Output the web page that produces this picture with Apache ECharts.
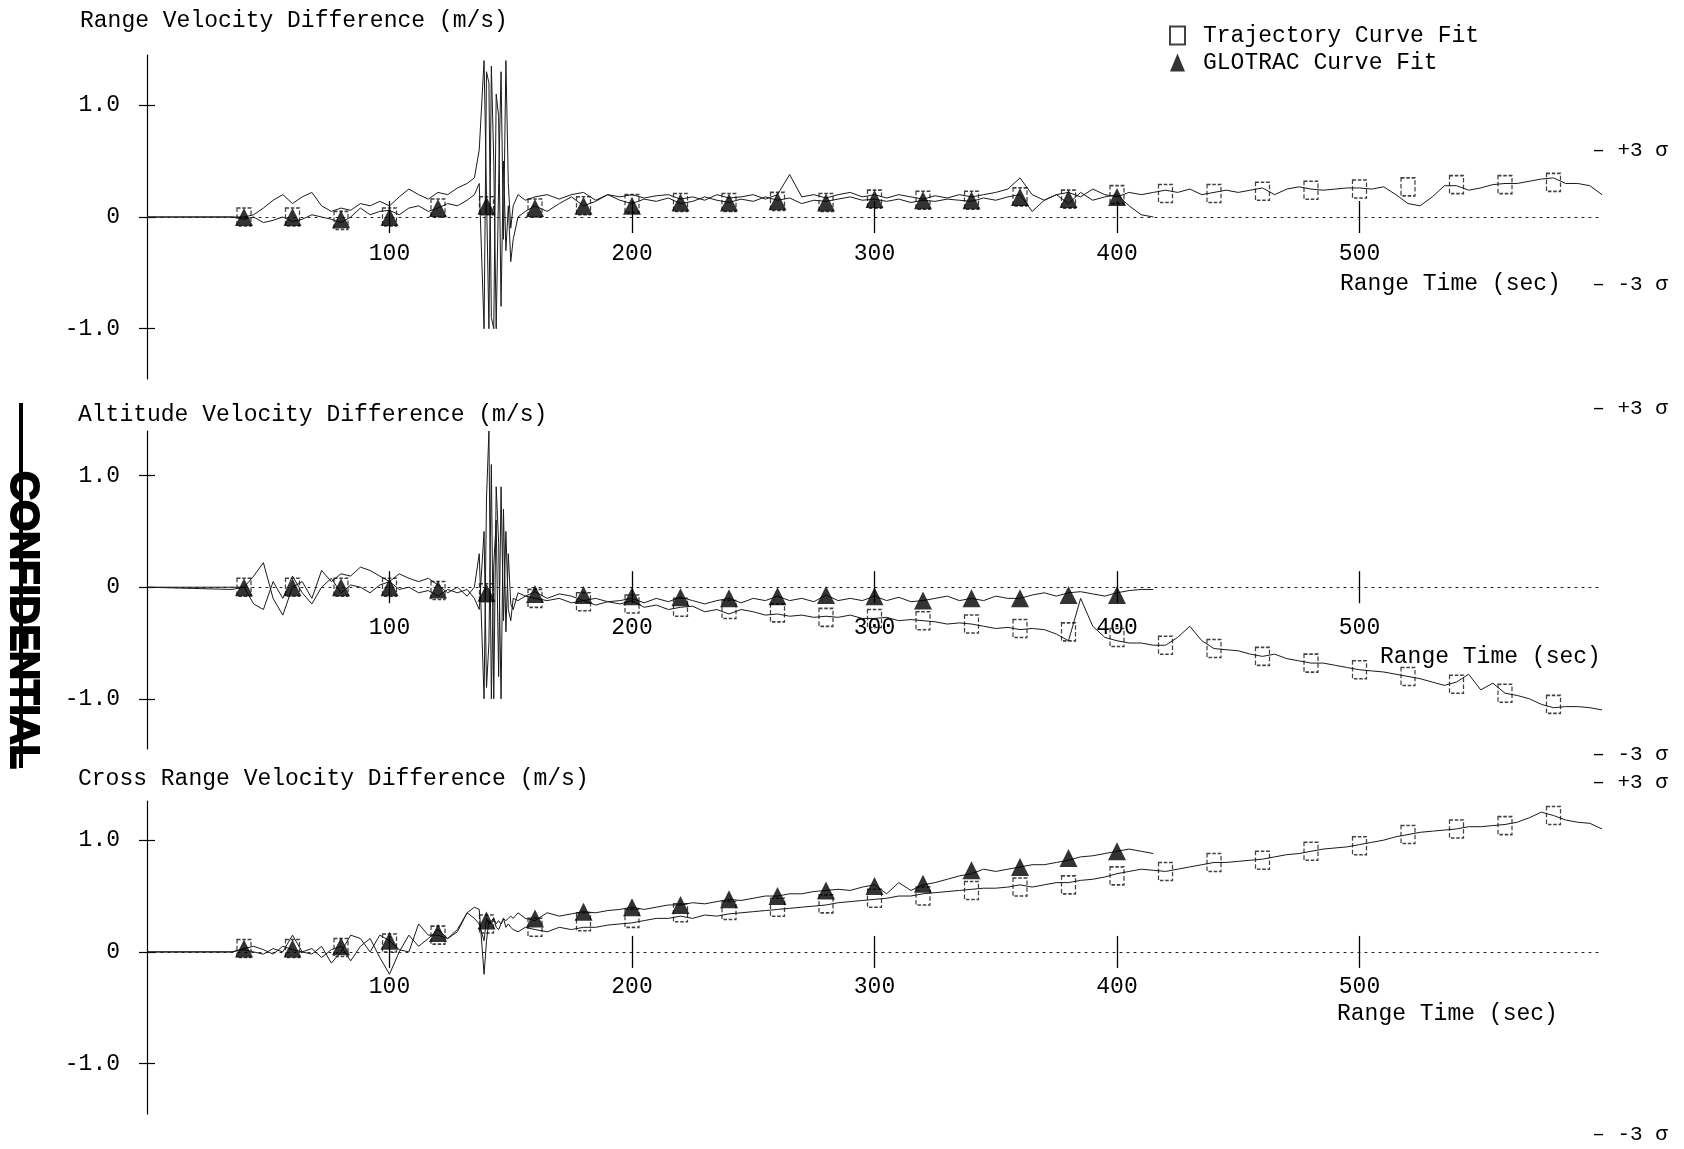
<!DOCTYPE html>
<html>
<head>
<meta charset="utf-8">
<script src="https://cdn.jsdelivr.net/npm/echarts@6/dist/echarts.min.js"></script>
<style>
html,body{margin:0;padding:0;background:#fff;}
#main{width:1684px;height:1149px;}
</style>
</head>
<body>
<div id="main"></div>
<script>
// ---------- DATA ----------
const panelTitles = ['Range Velocity Difference (m/s)', 'Altitude Velocity Difference (m/s)', 'Cross Range Velocity Difference (m/s)'];
const xAxisName = 'Range Time (sec)';
const xTickVals = [100, 200, 300, 400, 500];
const yTickVals = [-1, 0, 1];
const yTickLabels = {'-1': '-1.0', '0': '0', '1': '1.0'};
const legendNames = ['Trajectory Curve Fit', 'GLOTRAC Curve Fit'];
const sigmaLabels = ['+3 σ', '-3 σ'];
const sigmaVals = [[0.6, -0.6], [1.6, -1.5], [1.52, -1.63]];

// time base of the residual traces (s)
const tNoise = [0,35,
 40,44,48,52,56,60,64,68,72,76,80,84,88,92,96,100,104,108,112,116,120,124,128,132,
 135,137,139,
 140,141,142,143,144,145,146,147,148,149,150,151,
 153,156,
 160,165,170,175,180,185,190,195,200,205,
 210,215,220,225,230,235,240,245,250,255,
 260,265,270,275,280,285,290,295,300,305,
 310,315,320,325,330,335,340,345,350,355,
 360,365,370,375,380,385,390,395,400,405,
 410,415,420,425,430,435,440,445,450,455,
 460,465,470,475,480,485,490,495,500,505,
 510,515,520,525,530,535,540,545,550,555,
 560,565,570,575,580,585,590,595,600];

const rangeTraj = [0,0,
 0.0,0.02,0.08,0.15,0.2,0.12,0.18,0.22,0.1,0.05,0.08,0.06,0.12,0.1,0.14,0.1,0.18,0.25,0.2,0.16,0.22,0.2,0.26,0.3,
 0.35,0.6,1.4,
 0.2,-1.0,1.35,0.5,-1.0,0.3,1.3,-0.2,1.4,0.3,-0.1,0.1,
 0.2,0.15,
 0.18,0.2,0.16,0.2,0.22,0.15,0.2,0.18,0.2,0.17,
 0.19,0.2,0.16,0.18,0.15,0.2,0.17,0.18,0.2,0.16,
 0.2,0.38,0.18,0.2,0.17,0.2,0.22,0.18,0.2,0.17,
 0.2,0.18,0.16,0.19,0.17,0.2,0.18,0.2,0.22,0.25,
 0.35,0.2,0.15,0.2,0.22,0.18,0.25,0.2,0.18,0.22,
 0.2,0.22,0.24,0.22,0.25,0.2,0.22,0.24,0.22,0.24,
 0.26,0.2,0.25,0.27,0.25,0.24,0.25,0.26,0.26,0.25,
 0.27,0.2,0.12,0.1,0.18,0.28,0.28,0.24,0.26,0.29,
 0.3,0.3,0.32,0.34,0.35,0.3,0.3,0.28,0.2];
const rangeGlo = [0,0,
 -0.02,0.0,-0.05,-0.03,0.0,-0.04,-0.02,0.02,0.0,-0.02,-0.05,0.0,0.08,0.02,0.05,0.06,0.02,0.08,0.1,0.05,0.08,0.12,0.1,0.15,
 0.2,0.3,-1.0,
 1.3,1.2,-0.9,-1.0,1.1,0.9,-0.8,0.5,-0.3,0.1,-0.4,-0.2,
 0.0,0.05,
 0.1,0.05,0.12,0.18,0.1,0.14,0.2,0.15,0.12,0.16,
 0.14,0.17,0.12,0.14,0.18,0.15,0.13,0.16,0.14,0.18,
 0.15,0.17,0.12,0.15,0.14,0.16,0.18,0.15,0.16,0.14,
 0.16,0.13,0.15,0.14,0.16,0.15,0.14,0.17,0.15,0.18,
 0.2,0.05,0.15,0.2,0.12,0.22,0.15,0.18,0.2,0.1,
 0.02,0.0];
const altTraj = [0,0,
 0.0,0.1,0.22,-0.1,-0.25,0.0,0.05,-0.1,0.15,0.05,0.12,0.1,0.18,0.15,0.1,0.05,0.12,0.08,0.05,0.08,0.02,-0.05,0.0,-0.08,
 0.0,0.3,-1.0,
 0.8,1.4,-1.0,0.2,0.6,-0.8,0.9,-0.3,0.5,-0.2,-0.3,-0.1,
 -0.12,-0.08,
 -0.1,-0.12,-0.1,-0.14,-0.12,-0.16,-0.13,-0.15,-0.12,-0.18,
 -0.16,-0.2,-0.18,-0.17,-0.22,-0.2,-0.24,-0.2,-0.22,-0.25,
 -0.24,-0.26,-0.25,-0.27,-0.26,-0.27,-0.25,-0.28,-0.28,-0.27,
 -0.3,-0.29,-0.3,-0.31,-0.33,-0.32,-0.33,-0.35,-0.37,-0.36,
 -0.38,-0.37,-0.38,-0.42,-0.48,-0.1,-0.35,-0.45,-0.48,-0.5,
 -0.5,-0.52,-0.52,-0.45,-0.35,-0.48,-0.55,-0.56,-0.57,-0.6,
 -0.62,-0.6,-0.64,-0.66,-0.68,-0.68,-0.7,-0.72,-0.74,-0.75,
 -0.76,-0.78,-0.8,-0.82,-0.85,-0.88,-0.85,-0.78,-0.92,-0.86,
 -0.95,-0.97,-1.0,-1.05,-1.08,-1.07,-1.07,-1.08,-1.1];
const altGlo = [0,-0.02,
 0.0,-0.15,-0.2,0.05,-0.1,0.1,-0.05,-0.15,0.0,0.08,-0.05,0.02,0.0,-0.05,0.02,0.05,-0.02,0.0,-0.05,-0.03,-0.08,-0.02,-0.05,-0.02,
 -0.1,-0.2,0.5,
 -0.9,-0.5,1.1,-1.0,0.9,0.4,-1.0,0.7,-0.4,0.3,-0.15,-0.2,
 -0.05,-0.08,
 -0.04,-0.1,-0.06,-0.08,-0.12,-0.1,-0.13,-0.12,-0.1,-0.14,
 -0.1,-0.13,-0.09,-0.12,-0.15,-0.12,-0.1,-0.14,-0.1,-0.12,
 -0.08,-0.12,-0.1,-0.13,-0.07,-0.12,-0.1,-0.12,-0.08,-0.12,
 -0.09,-0.13,-0.12,-0.1,-0.08,-0.12,-0.1,-0.12,-0.08,-0.1,
 -0.1,-0.07,-0.05,-0.08,-0.05,-0.04,-0.06,-0.08,-0.05,-0.03,
 -0.02,-0.02];
const crossTraj = [0,0,
 0.03,0.05,0.02,-0.02,0.05,0.02,0.0,0.03,-0.05,0.02,0.05,-0.08,0.05,0.12,-0.05,-0.2,0.0,0.15,0.05,0.12,0.2,0.12,0.18,0.35,
 0.4,0.38,-0.2,
 0.1,0.28,0.25,0.3,0.22,0.2,0.25,0.3,0.22,0.25,0.22,0.2,
 0.18,0.22,
 0.2,0.18,0.22,0.2,0.22,0.22,0.24,0.25,0.26,0.28,
 0.3,0.3,0.32,0.3,0.33,0.32,0.34,0.35,0.36,0.37,
 0.38,0.39,0.4,0.41,0.42,0.44,0.45,0.46,0.47,0.48,
 0.5,0.5,0.52,0.53,0.54,0.55,0.56,0.57,0.57,0.58,
 0.6,0.58,0.6,0.62,0.62,0.64,0.65,0.67,0.7,0.72,
 0.74,0.73,0.72,0.74,0.76,0.78,0.8,0.8,0.81,0.82,
 0.83,0.85,0.87,0.88,0.9,0.92,0.93,0.94,0.96,0.98,
 1.0,1.03,1.05,1.07,1.08,1.09,1.1,1.12,1.12,1.13,
 1.14,1.16,1.2,1.25,1.22,1.18,1.16,1.15,1.1];
const crossGlo = [0,0,
 0.02,0.0,-0.02,0.03,0.0,0.15,0.0,-0.02,0.05,-0.1,0.0,0.15,0.12,0.0,0.15,0.1,0.02,0.0,0.25,0.15,0.15,0.12,0.2,0.35,
 0.3,0.25,0.1,
 0.3,0.25,0.28,0.3,0.25,0.28,0.25,0.3,0.28,0.3,0.32,0.3,
 0.35,0.3,
 0.28,0.35,0.32,0.34,0.36,0.35,0.37,0.38,0.4,0.38,
 0.4,0.42,0.42,0.44,0.43,0.45,0.47,0.46,0.48,0.5,
 0.5,0.52,0.52,0.54,0.55,0.56,0.55,0.58,0.6,0.52,
 0.62,0.55,0.6,0.62,0.65,0.68,0.7,0.74,0.72,0.74,
 0.76,0.78,0.78,0.8,0.82,0.85,0.86,0.88,0.9,0.92,
 0.9,0.88];

// curve-fit marker times (s)
const triTime = [40,60,80,100,120,140,160,180,200,220,240,260,280,300,320,340,360,380,400];
const sqTime = [40,60,80,100,120,140,160,180,200,220,240,260,280,300,320,340,360,380,400,420,440,460,480,500,520,540,560,580];

const rangeTri = [0.0,0.0,-0.02,0.0,0.08,0.1,0.08,0.1,0.1,0.13,0.13,0.14,0.13,0.16,0.15,0.15,0.18,0.16,0.18];
const rangeSq = [0.0,0.0,-0.03,0.0,0.08,0.1,0.08,0.1,0.12,0.13,0.13,0.14,0.13,0.16,0.15,0.15,0.18,0.16,0.2,0.21,0.21,0.23,0.24,0.25,0.27,0.29,0.29,0.31];
const altTri = [0.0,0.0,0.0,0.0,-0.02,-0.05,-0.06,-0.07,-0.08,-0.09,-0.1,-0.08,-0.07,-0.08,-0.12,-0.1,-0.1,-0.07,-0.07];
const altSq = [0.0,0.0,0.0,0.0,-0.03,-0.05,-0.1,-0.13,-0.15,-0.18,-0.2,-0.23,-0.27,-0.28,-0.3,-0.33,-0.37,-0.4,-0.45,-0.52,-0.55,-0.62,-0.68,-0.74,-0.8,-0.87,-0.95,-1.05];
const crossTri = [0.03,0.03,0.05,0.1,0.17,0.28,0.3,0.36,0.4,0.42,0.47,0.5,0.55,0.59,0.61,0.73,0.76,0.84,0.9];
const crossSq = [0.03,0.03,0.04,0.08,0.15,0.25,0.22,0.27,0.3,0.35,0.37,0.4,0.43,0.48,0.5,0.55,0.58,0.6,0.68,0.72,0.8,0.82,0.9,0.95,1.05,1.1,1.13,1.22];

// ---------- LAYOUT / STYLE ----------
const FONT = '"Liberation Mono", "DejaVu Sans Mono", monospace';
const INK = '#000';
const panels = [
  {traj: rangeTraj, glo: rangeGlo, tri: rangeTri, sq: rangeSq, top: 55, height: 324, ymin: -1.45, ymax: 1.45, labelOffset: 37,
   titlePos: [80, 21], xNamePos: [1340, 284]},
  {traj: altTraj, glo: altGlo, tri: altTri, sq: altSq, top: 431, height: 318, ymin: -1.45, ymax: 1.4, labelOffset: 41,
   titlePos: [78, 415], xNamePos: [1380, 657]},
  {traj: crossTraj, glo: crossGlo, tri: crossTri, sq: crossSq, top: 801, height: 313, ymin: -1.45, ymax: 1.35, labelOffset: 35,
   titlePos: [78, 779], xNamePos: [1337, 1014]}
];
const zip = (xs, ys) => ys.map((y, i) => [xs[i], y]);

const grid = [], xAxis = [], yAxis = [], series = [];
panels.forEach((p, i) => {
  grid.push({left: 147, width: 1455, top: p.top, height: p.height});
  const xBase = {type: 'value', gridIndex: i, min: 0, max: 600, splitLine: {show: false}, axisLabel: {show: false}};
  xAxis.push(Object.assign({}, xBase, {
    position: 'bottom',
    axisLine: {show: true, onZero: true, lineStyle: {color: '#222', width: 1, type: [2, 5]}},
    axisTick: {show: true, customValues: xTickVals, length: 16, inside: false, lineStyle: {color: INK, width: 1.3}}
  }));
  xAxis.push(Object.assign({}, xBase, {
    position: 'top',
    axisLine: {show: false, onZero: true},
    axisTick: {show: true, customValues: xTickVals, length: 16, inside: false, lineStyle: {color: INK, width: 1.3}}
  }));
  const yBase = {type: 'value', gridIndex: i, min: p.ymin, max: p.ymax, splitLine: {show: false}};
  yAxis.push(Object.assign({}, yBase, {
    position: 'left',
    axisLine: {show: true, onZero: false, lineStyle: {color: INK, width: 1.2}},
    axisTick: {show: true, customValues: yTickVals, length: 8, lineStyle: {color: INK, width: 1.2}},
    axisLabel: {show: true, customValues: yTickVals, margin: 27, fontFamily: FONT, fontSize: 23, color: INK,
      formatter: v => yTickLabels[String(Math.round(v))]}
  }));
  yAxis.push(Object.assign({}, yBase, {
    position: 'right',
    axisLine: {show: false, onZero: true},
    axisTick: {show: true, customValues: yTickVals, length: 8, lineStyle: {color: INK, width: 1.2}},
    axisLabel: {show: false}
  }));
  const xi = i * 2, yi = i * 2;
  series.push({type: 'line', xAxisIndex: xi, yAxisIndex: yi, data: zip(tNoise, p.traj), showSymbol: false, symbol: 'none',
    lineStyle: {color: '#1a1a1a', width: 1}, z: 2, silent: true});
  series.push({type: 'line', xAxisIndex: xi, yAxisIndex: yi, data: zip(tNoise, p.glo), showSymbol: false, symbol: 'none',
    lineStyle: {color: '#1a1a1a', width: 1}, z: 2, silent: true});
  series.push({type: 'scatter', name: legendNames[0], xAxisIndex: xi, yAxisIndex: yi, data: zip(sqTime, p.sq),
    symbol: 'rect', symbolSize: [14, 18],
    itemStyle: {color: 'rgba(255,255,255,0)', borderColor: '#111', borderWidth: 1.4, borderType: [4, 2]}, z: 3});
  series.push({type: 'scatter', name: legendNames[1], xAxisIndex: xi, yAxisIndex: yi, data: zip(triTime, p.tri),
    symbol: 'triangle', symbolSize: [18, 18],
    itemStyle: {color: '#000'}, z: 4});
});

const option = {
  animation: false,
  backgroundColor: '#fff',
  grid, xAxis, yAxis, series,
  legend: {
    data: legendNames, orient: 'vertical', left: 1164, top: 19, itemGap: 4,
    itemWidth: 15, itemHeight: 18, selectedMode: false,
    textStyle: {fontFamily: FONT, fontSize: 23, color: INK, padding: [0, 0, 0, 13]}
  }
};

const chart = echarts.init(document.getElementById('main'), null, {renderer: 'canvas'});
chart.setOption(option);

// ---------- TEXT ANNOTATIONS ----------
const graphic = [];
panels.forEach((p, i) => {
  graphic.push({type: 'text', x: p.titlePos[0], y: p.titlePos[1],
    style: {text: panelTitles[i], font: '23px ' + FONT, fill: INK, verticalAlign: 'middle'}});
  graphic.push({type: 'text', x: p.xNamePos[0], y: p.xNamePos[1],
    style: {text: xAxisName, font: '23px ' + FONT, fill: INK, verticalAlign: 'middle'}});
  xTickVals.forEach(v => {
    const pt = chart.convertToPixel({gridIndex: i}, [v, 0]);
    graphic.push({type: 'text', x: pt[0], y: pt[1] + p.labelOffset,
      style: {text: String(v), font: '23px ' + FONT, fill: INK, align: 'center', verticalAlign: 'middle'}});
  });
  sigmaVals[i].forEach((v, k) => {
    const pt = chart.convertToPixel({gridIndex: i}, [596, v]);
    graphic.push({type: 'text', x: pt[0], y: pt[1],
      style: {text: '– ' + sigmaLabels[k], font: '21px ' + FONT, fill: INK, verticalAlign: 'middle'}});
  });
});
// CONFIDENTIAL stamp on the left margin
graphic.push({type: 'line', shape: {x1: 21, y1: 403, x2: 21, y2: 768}, style: {stroke: '#000', lineWidth: 4}});
graphic.push({type: 'text', x: 22, y: 620, rotation: -Math.PI / 2,
  style: {text: 'CONFIDENTIAL', font: 'bold 40px "Liberation Sans", Arial, sans-serif', fill: '#000',
    stroke: '#000', lineWidth: 2, align: 'center', verticalAlign: 'middle'}});
chart.setOption({graphic});
</script>
</body>
</html>
